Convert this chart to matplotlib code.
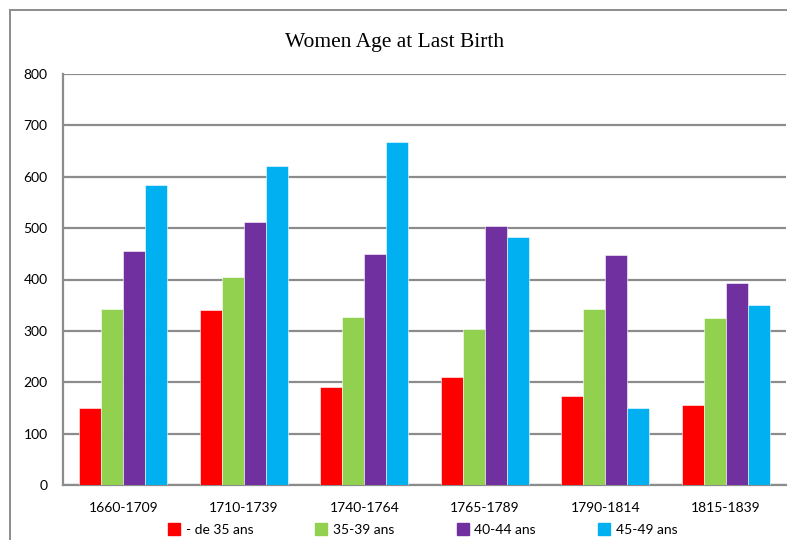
import matplotlib
matplotlib.use("Agg")
import matplotlib.pyplot as plt
import numpy as np
from matplotlib.lines import Line2D

categories = ["1660-1709", "1710-1739", "1740-1764", "1765-1789", "1790-1814", "1815-1839"]
series_names = ["- de 35 ans", "35-39 ans", "40-44 ans", "45-49 ans"]
under35 = [150, 340, 190, 211, 173, 155]
a35_39 = [342, 405, 327, 303, 342, 325]
a40_44 = [456, 512, 449, 505, 447, 393]
a45_49 = [583, 620, 667, 482, 150, 350]
yticks = [0, 100, 200, 300, 400, 500, 600, 700, 800]
colors = ["#FF0000", "#92D050", "#7030A0", "#00B0F0"]

series = [under35, a35_39, a40_44, a45_49]

fig = plt.figure(figsize=(7.9, 5.4), dpi=100)
ax = fig.add_axes([63/790, 1-485/540, (786-63)/790, (485-74)/540])

x = np.arange(len(categories))
bw = 0.183
for i, (vals, c, name) in enumerate(zip(series, colors, series_names)):
    ax.bar(x + (i - 1.5) * bw, vals, width=bw, color=c, edgecolor="white",
           linewidth=0.4, label=name, zorder=3)

ax.set_xlim(-0.5, len(categories) - 0.5)
ax.set_ylim(0, 800)
ax.set_yticks(yticks)
ax.set_xticks(x)
ax.set_xticklabels(categories)
ax.yaxis.grid(True, color="#8c8c8c", linewidth=1.6, zorder=0)
ax.set_axisbelow(True)
for s in ["top", "right"]:
    ax.spines[s].set_visible(False)
for s in ["left", "bottom"]:
    ax.spines[s].set_color("#8c8c8c")
    ax.spines[s].set_linewidth(1.6)
ax.tick_params(axis="both", length=0, labelsize=10, colors="black")
ax.tick_params(axis="y", pad=11)
ax.tick_params(axis="x", pad=12)
for lab in ax.get_xticklabels() + ax.get_yticklabels():
    lab.set_family(["Lato", "DejaVu Sans"])

fig.text(395/790, 1-43/540, "Women Age at Last Birth", ha="center", va="center",
         family=["Liberation Serif", "DejaVu Serif"], fontsize=15.5)

handles = [Line2D([0], [0], marker="s", linestyle="none", markersize=8,
                  markerfacecolor=c, markeredgecolor=c) for c in colors]
leg = fig.legend(handles, series_names, loc="center", bbox_to_anchor=(423/790, 1-530/540),
                 ncol=4, frameon=False, handlelength=0.8, handletextpad=0.45,
                 columnspacing=4.5, prop={"family": ["Lato", "DejaVu Sans"], "size": 10})

# outer chart frame
fig.add_artist(Line2D([10/790, 10/790], [0, 1-10/540], transform=fig.transFigure,
                      color="#8c8c8c", linewidth=1.4))
fig.add_artist(Line2D([10/790, 786/790], [1-10/540, 1-10/540], transform=fig.transFigure,
                      color="#8c8c8c", linewidth=1.4))

fig.savefig("out.png", dpi=100)
